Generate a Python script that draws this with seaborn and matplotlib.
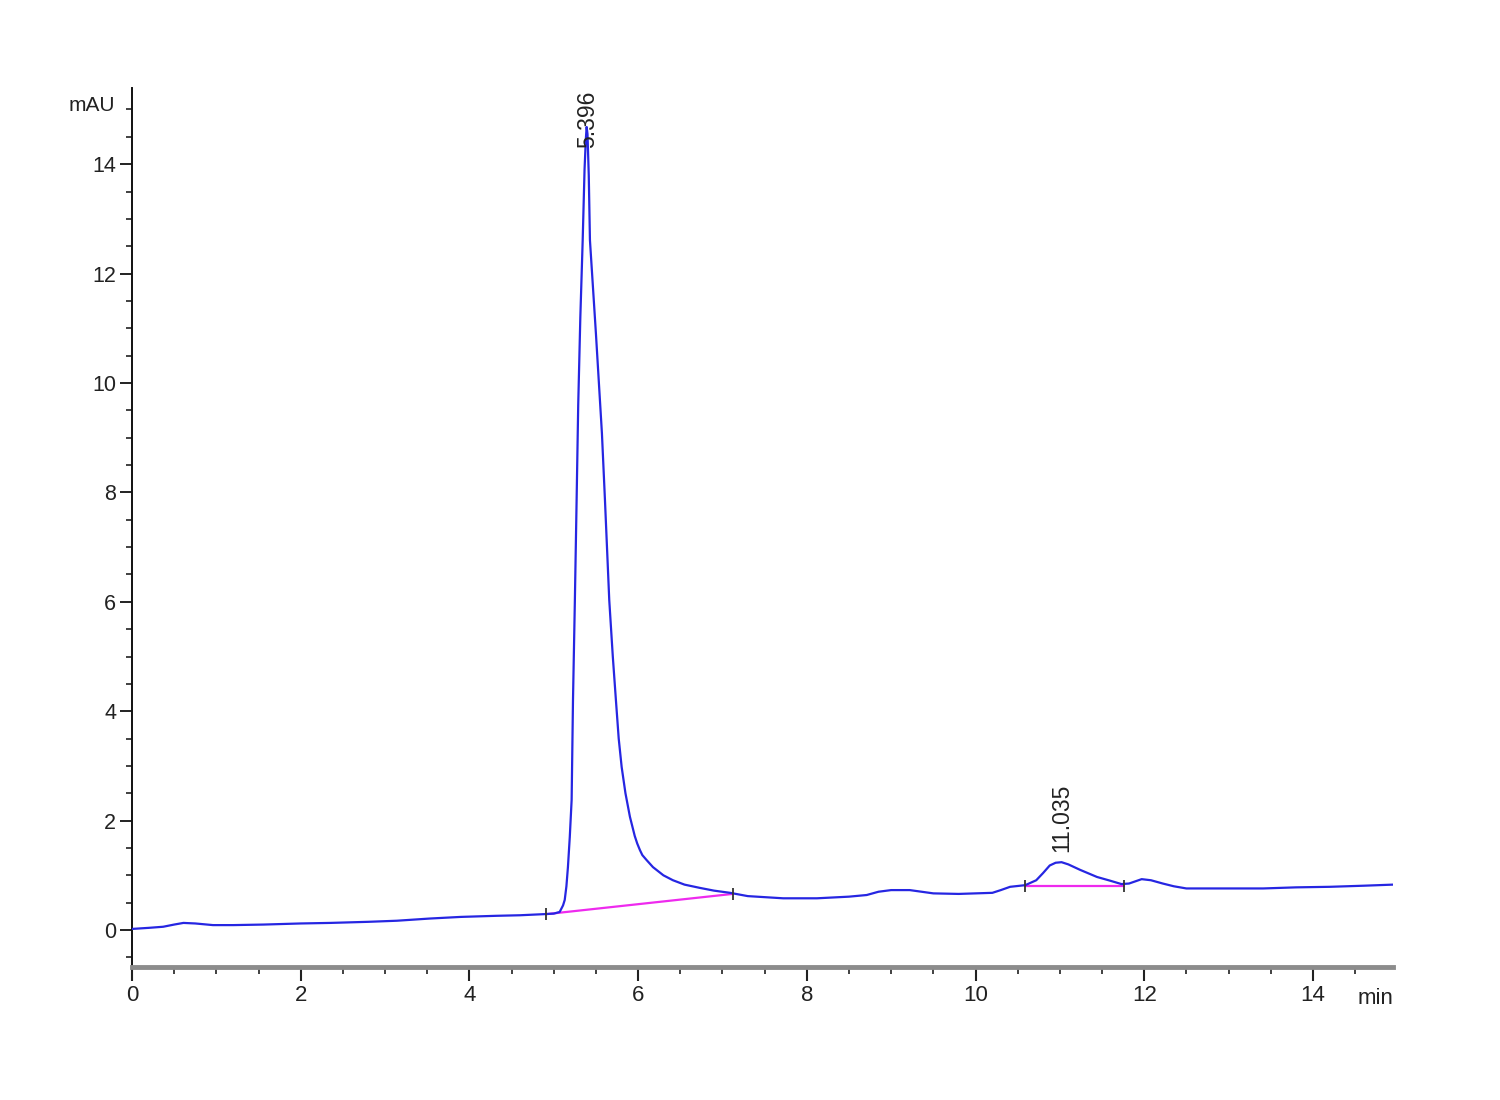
import matplotlib
matplotlib.use("Agg")
import matplotlib.pyplot as plt
from matplotlib.ticker import MultipleLocator, FixedLocator
import numpy as np
import pandas as pd
import seaborn as sns

# ---- data ----
time_min = [0.00, 0.20, 0.37, 0.50, 0.61, 0.75, 0.96, 1.20, 1.56, 2.00, 2.35, 2.80,
            3.14, 3.53, 3.90, 4.32, 4.60, 4.88, 5.00, 5.07, 5.11, 5.13, 5.15, 5.168,
            5.19, 5.212, 5.228, 5.25, 5.271, 5.29, 5.315, 5.343, 5.365, 5.38, 5.39, 5.40,
            5.415, 5.429, 5.50, 5.571, 5.607, 5.658, 5.70, 5.737, 5.77, 5.805, 5.85,
            5.903, 5.96, 5.99, 6.022, 6.05, 6.10, 6.176, 6.30, 6.413, 6.55, 6.733, 6.90, 7.09,
            7.30, 7.72, 8.12, 8.50, 8.71, 8.85, 9.00, 9.22, 9.50, 9.80, 10.20, 10.30,
            10.41, 10.59, 10.72, 10.80, 10.88, 10.95, 11.02, 11.10, 11.24, 11.44,
            11.60, 11.73, 11.82, 11.97, 12.08, 12.22, 12.35, 12.50, 13.00, 13.41,
            13.80, 14.20, 14.60, 14.95]
absorbance_mau = [0.02, 0.04, 0.06, 0.10, 0.13, 0.12, 0.09, 0.09, 0.10, 0.12, 0.13, 0.15,
                  0.17, 0.21, 0.24, 0.26, 0.27, 0.29, 0.30, 0.33, 0.45, 0.55, 0.80, 1.15,
                  1.70, 2.38, 4.20, 6.00, 7.86, 9.60, 11.20, 12.61, 13.90, 14.45, 14.68, 14.55,
                  13.80, 12.61, 10.90, 9.08, 7.86, 6.03, 5.00, 4.20, 3.50, 2.98, 2.50,
                  2.07, 1.72, 1.58, 1.46, 1.37, 1.28, 1.15, 1.00, 0.91, 0.83, 0.77, 0.72, 0.68,
                  0.62, 0.58, 0.58, 0.61, 0.64, 0.70, 0.73, 0.73, 0.67, 0.66, 0.68, 0.73,
                  0.79, 0.82, 0.91, 1.04, 1.18, 1.23, 1.24, 1.20, 1.10, 0.97,
                  0.90, 0.84, 0.85, 0.93, 0.91, 0.85, 0.80, 0.76, 0.76, 0.76,
                  0.78, 0.79, 0.81, 0.83]

peak_rt_pos = [5.405, 11.02]
peak_label_base = [14.29, 1.43]
peak_labels = ["5.396", "11.035"]

baseline1_t = [4.91, 7.12]
baseline1_v = [0.29, 0.66]
baseline2_t = [10.59, 11.76]
baseline2_v = [0.81, 0.81]

x_major = [0, 2, 4, 6, 8, 10, 12, 14]
y_major = [0, 2, 4, 6, 8, 10, 12, 14]

# ---- style ----
sns.set_theme(style="ticks")
plt.rcParams["font.family"] = ["Liberation Sans", "DejaVu Sans"]
TXT = "#222222"

fig = plt.figure(figsize=(15, 11), dpi=100)
ax = fig.add_axes([0.088, 0.1209, 0.8407, 0.799])

df = pd.DataFrame({"t": time_min, "v": absorbance_mau})
sns.lineplot(data=df, x="t", y="v", ax=ax, color="#2626e2", linewidth=1.6, zorder=3)

for bt, bv in [(baseline1_t, baseline1_v), (baseline2_t, baseline2_v)]:
    bdf = pd.DataFrame({"t": bt, "v": bv})
    sns.lineplot(data=bdf, x="t", y="v", ax=ax, color="#ee2aee", linewidth=1.6, zorder=2)
    ax.plot(bt, bv, linestyle="none", marker="|", markersize=8, markeredgewidth=1.3,
            color="#333333", zorder=4)

for x, y, lab in zip(peak_rt_pos, peak_label_base, peak_labels):
    ax.text(x, y, lab, rotation=90, ha="center", va="bottom", fontsize=16.5,
            color=TXT, zorder=5)

ax.set_xlim(0, 14.95)
ax.set_ylim(-0.676, 15.39)
ax.set_xlabel("")
ax.set_ylabel("")

ax.xaxis.set_major_locator(FixedLocator(x_major))
ax.yaxis.set_major_locator(FixedLocator(y_major))
ax.xaxis.set_minor_locator(MultipleLocator(0.5))
ax.yaxis.set_minor_locator(MultipleLocator(0.5))
ax.set_xticklabels([str(v) for v in x_major])
ax.set_yticklabels([str(v) for v in y_major])

for s in ["top", "right"]:
    ax.spines[s].set_visible(False)
ax.spines["left"].set_color("#111111")
ax.spines["left"].set_linewidth(1.4)
ax.spines["bottom"].set_color("#8c8c8c")
ax.spines["bottom"].set_linewidth(3.5)

ax.tick_params(axis="x", which="major", direction="out", length=10, width=1.5,
               color="#222222", labelsize=16, labelcolor=TXT, pad=3)
ax.tick_params(axis="x", which="minor", direction="out", length=5, width=1.3,
               color="#333333")
ax.tick_params(axis="y", which="major", direction="out", length=8.5, width=1.4,
               color="#222222", labelsize=15.5, labelcolor=TXT, pad=3)
ax.tick_params(axis="y", which="minor", direction="out", length=4, width=1.3,
               color="#333333")

ax.text(-0.2, 15.07, "mAU", ha="right", va="center", fontsize=15, color=TXT, clip_on=False)
ax.text(14.95, -1.243, "min", ha="right", va="center", fontsize=16, color=TXT, clip_on=False)

fig.savefig("out.png", dpi=100, facecolor="white")
